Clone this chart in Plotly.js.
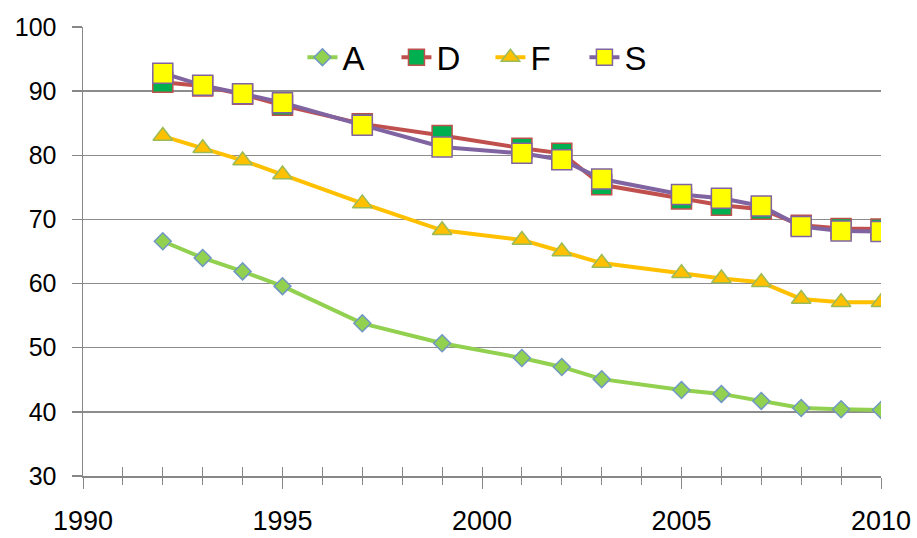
<!DOCTYPE html>
<html>
<head>
<meta charset="utf-8">
<script src="https://cdn.plot.ly/plotly-3.0.1.min.js"></script>
<style>html,body{margin:0;padding:0;background:#fff;}#chart{width:917px;height:538px;}</style>
</head>
<body>
<div id="chart"></div>
<script>
const years = [1992, 1993, 1994, 1995, 1997, 1999, 2001, 2002, 2003, 2005, 2006, 2007, 2008, 2009, 2010];
const seriesA = [66.6, 64.0, 61.9, 59.6, 53.8, 50.7, 48.4, 47.0, 45.1, 43.4, 42.8, 41.7, 40.6, 40.4, 40.3];
const seriesD = [91.4, 90.8, 89.5, 87.8, 84.9, 83.1, 81.1, 80.3, 75.4, 73.2, 72.2, 71.6, 69.1, 68.6, 68.5];
const seriesF = [83.0, 81.1, 79.2, 77.0, 72.5, 68.3, 66.8, 65.0, 63.2, 61.6, 60.8, 60.2, 57.6, 57.1, 57.1];
const seriesS = [92.8, 90.9, 89.6, 88.2, 84.7, 81.3, 80.3, 79.3, 76.3, 73.9, 73.3, 72.1, 68.9, 68.2, 68.1];
const xTickVals = [1990, 1995, 2000, 2005, 2010];
const yTickVals = [30, 40, 50, 60, 70, 80, 90, 100];

const FONT = '"Liberation Sans", Arial, sans-serif';

const traces = [
  {x: years, y: seriesA, name: 'A', type: 'scatter', mode: 'lines+markers',
   line: {color: '#92D050', width: 4},
   marker: {symbol: 'diamond', size: 13, color: '#92D050', line: {color: '#6F97C4', width: 1.5}}},
  {x: years, y: seriesD, name: 'D', type: 'scatter', mode: 'lines+markers',
   line: {color: '#C0504D', width: 4},
   marker: {symbol: 'square', size: 20, color: '#00B050', line: {color: '#C0504D', width: 1.5}}},
  {x: years, y: seriesF, name: 'F', type: 'scatter', mode: 'lines+markers',
   line: {color: '#FFC000', width: 4},
   marker: {symbol: 'triangle-up', size: 17, color: '#FFC000', line: {color: '#9BBB59', width: 1.5}}},
  {x: years, y: seriesS, name: 'S', type: 'scatter', mode: 'lines+markers',
   line: {color: '#8064A2', width: 4},
   marker: {symbol: 'square', size: 20, color: '#FFFF00', line: {color: '#8064A2', width: 1.5}}},
  {x: [1990], y: [30], xaxis: 'x2', yaxis: 'y', type: 'scatter', mode: 'markers',
   marker: {opacity: 0}, showlegend: false, hoverinfo: 'skip'}
];

const layout = {
  width: 917, height: 538,
  margin: {l: 83, r: 36, t: 27, b: 62},
  paper_bgcolor: '#ffffff', plot_bgcolor: '#ffffff',
  font: {family: FONT, color: '#000000'},
  showlegend: true,
  legend: {orientation: 'h', x: 0.275, xanchor: 'left', y: 0.995, yanchor: 'top',
           font: {family: FONT, size: 33, color: '#000'}, bgcolor: 'rgba(0,0,0,0)',
           itemsizing: 'trace', entrywidth: 49, entrywidthmode: 'pixels', tracegroupgap: 0},
  xaxis: {range: [1990, 2010], tickmode: 'array', tickvals: xTickVals,
          ticks: 'outside', ticklen: 11, tickwidth: 1, tickcolor: '#878787',
          minor: {dtick: 1, tick0: 1990, ticks: 'outside', ticklen: 7, tickwidth: 1, tickcolor: '#878787', showgrid: false},
          showline: true, linecolor: '#878787', linewidth: 1.5,
          showgrid: false, zeroline: false,
          tickfont: {family: FONT, size: 27, color: '#000'}, ticklabelstandoff: 9},
  xaxis2: {range: [1990, 2010], overlaying: 'x', anchor: 'y', side: 'bottom',
           tickmode: 'array', tickvals: xTickVals, ticks: 'inside', ticklen: 9, tickwidth: 1, tickcolor: '#878787',
           minor: {dtick: 1, tick0: 1990, ticks: 'inside', ticklen: 9, tickwidth: 1, tickcolor: '#878787', showgrid: false},
           showticklabels: false, showgrid: false, zeroline: false, showline: false},
  yaxis: {range: [30, 100], tickmode: 'array', tickvals: yTickVals,
          ticks: 'outside', ticklen: 10, tickwidth: 1.5, tickcolor: '#878787',
          showline: true, linecolor: '#878787', linewidth: 1.5,
          showgrid: true, gridcolor: '#8C8C8C', gridwidth: 1.5, zeroline: false,
          tickfont: {family: FONT, size: 25, color: '#000'}, ticklabelstandoff: 10}
};

Plotly.newPlot('chart', traces, layout, {staticPlot: true, displayModeBar: false});
</script>
</body>
</html>
